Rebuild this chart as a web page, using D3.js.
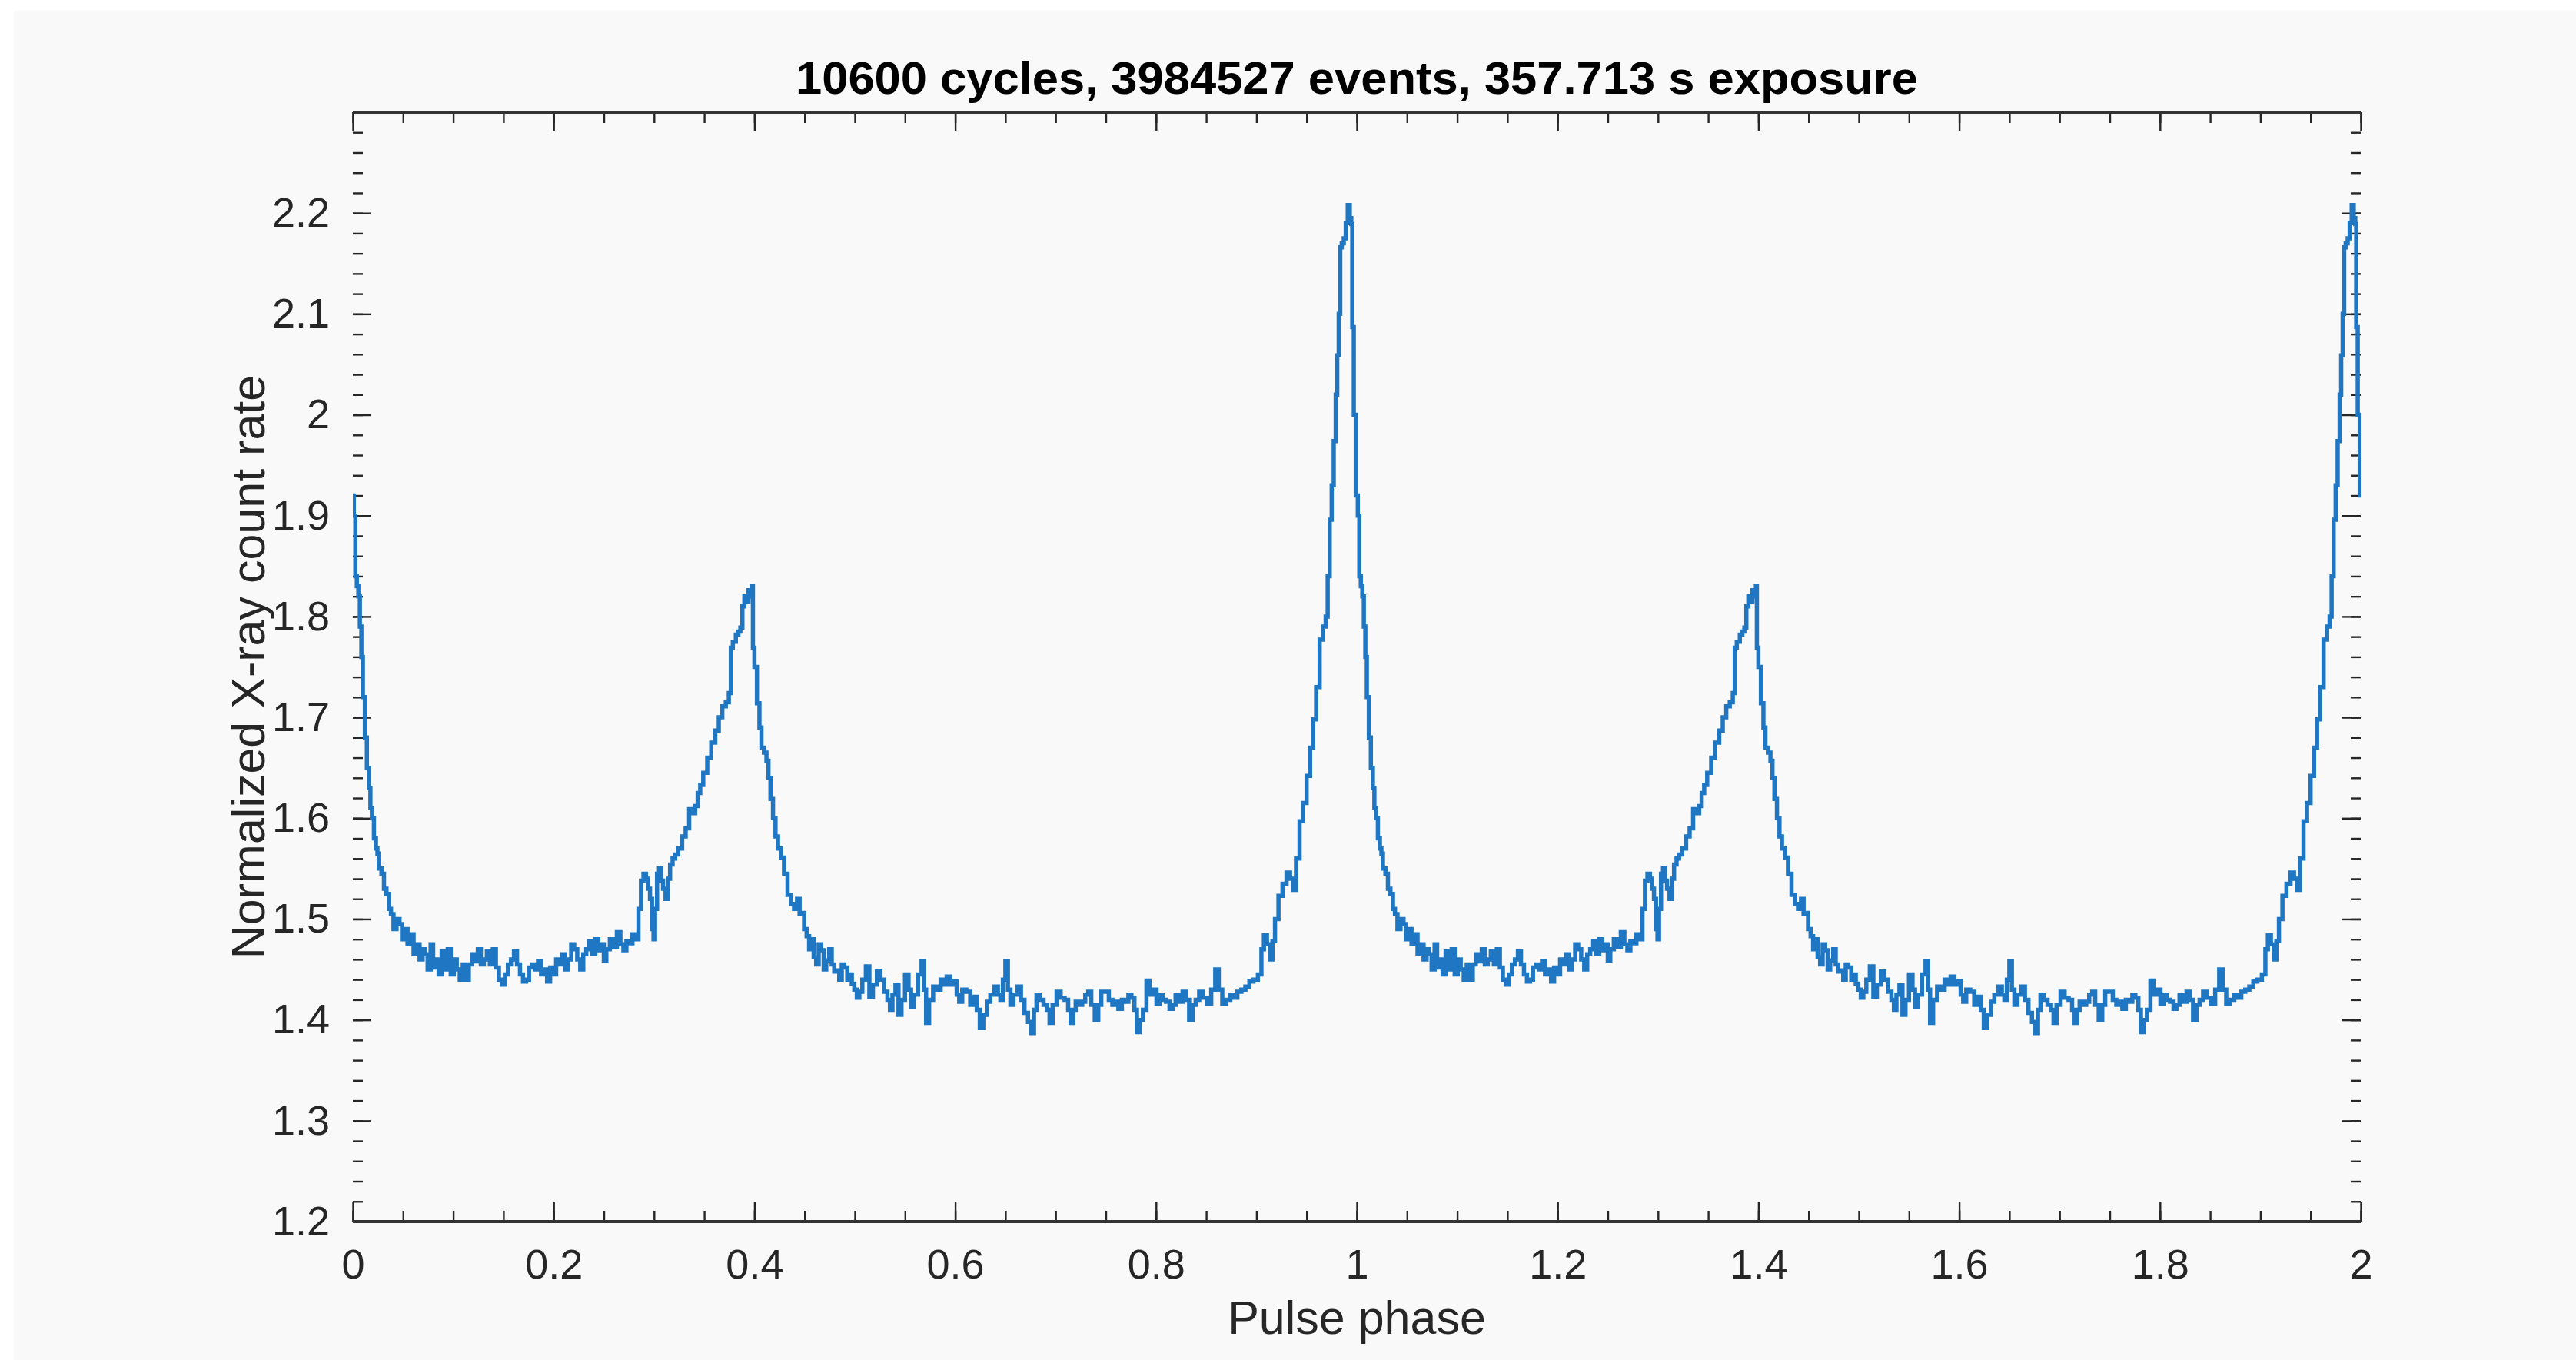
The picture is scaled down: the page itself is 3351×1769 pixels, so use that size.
<!DOCTYPE html>
<meta charset="utf-8">

<!-- Load d3.js -->
<script src="https://d3js.org/d3.v7.min.js"></script>

<style>
  body { margin: 0; background: #ffffff; }
  text { font-family: 'Liberation Sans', Arial, Helvetica, sans-serif; fill: #262626; }
</style>

<div id="my_dataviz"></div>

<script>

// one folded pulse cycle (phase, normalized rate)
var cyclePhase = [
  0.000, 0.002, 0.003, 0.005, 0.006, 0.008, 0.009, 0.011, 0.013, 0.015,
  0.017, 0.018, 0.020, 0.022, 0.024, 0.025, 0.027, 0.030, 0.032, 0.035,
  0.037, 0.039, 0.042, 0.045, 0.048, 0.050, 0.053, 0.056, 0.059, 0.062,
  0.065, 0.068, 0.071, 0.073, 0.076, 0.079, 0.081, 0.084, 0.087, 0.090,
  0.093, 0.096, 0.099, 0.102, 0.105, 0.108, 0.111, 0.114, 0.117, 0.120,
  0.123, 0.126, 0.129, 0.132, 0.135, 0.138, 0.141, 0.144, 0.147, 0.150,
  0.153, 0.156, 0.159, 0.162, 0.165, 0.168, 0.171, 0.174, 0.177, 0.180,
  0.183, 0.186, 0.189, 0.192, 0.195, 0.198, 0.201, 0.204, 0.207, 0.210,
  0.213, 0.216, 0.219, 0.222, 0.225, 0.228, 0.231, 0.234, 0.237, 0.240,
  0.243, 0.246, 0.249, 0.251, 0.254, 0.258, 0.261, 0.265, 0.268, 0.271,
  0.274, 0.277, 0.280, 0.283, 0.286, 0.288, 0.291, 0.293, 0.295, 0.297,
  0.299, 0.300, 0.302, 0.304, 0.306, 0.308, 0.310, 0.313, 0.315, 0.317,
  0.320, 0.322, 0.326, 0.330, 0.333, 0.337, 0.340, 0.342, 0.345, 0.347,
  0.351, 0.355, 0.359, 0.363, 0.366, 0.370, 0.373, 0.376, 0.377, 0.380,
  0.383, 0.385, 0.387, 0.389, 0.391, 0.393, 0.395, 0.397, 0.398, 0.399,
  0.401, 0.404, 0.406, 0.408, 0.411, 0.413, 0.415, 0.417, 0.420, 0.422,
  0.425, 0.428, 0.431, 0.435, 0.438, 0.441, 0.444, 0.446, 0.448, 0.451,
  0.453, 0.456, 0.458, 0.460, 0.463, 0.465, 0.468, 0.470, 0.473, 0.476,
  0.478, 0.481, 0.483, 0.486, 0.488, 0.491, 0.494, 0.496, 0.498, 0.501,
  0.503, 0.506, 0.509, 0.513, 0.516, 0.520, 0.524, 0.527, 0.531, 0.534,
  0.536, 0.539, 0.542, 0.545, 0.548, 0.552, 0.555, 0.557, 0.561, 0.565,
  0.568, 0.570, 0.572, 0.576, 0.580, 0.584, 0.587, 0.590, 0.593, 0.597,
  0.600, 0.603, 0.605, 0.609, 0.613, 0.617, 0.620, 0.623, 0.626, 0.630,
  0.633, 0.637, 0.641, 0.644, 0.646, 0.649, 0.651, 0.654, 0.656, 0.660,
  0.664, 0.667, 0.671, 0.674, 0.677, 0.680, 0.682, 0.686, 0.690, 0.693,
  0.695, 0.699, 0.703, 0.707, 0.711, 0.714, 0.716, 0.719, 0.721, 0.725,
  0.728, 0.731, 0.734, 0.737, 0.741, 0.744, 0.747, 0.751, 0.755, 0.758,
  0.761, 0.764, 0.768, 0.771, 0.774, 0.777, 0.780, 0.782, 0.785, 0.789,
  0.792, 0.795, 0.799, 0.802, 0.805, 0.808, 0.812, 0.815, 0.818, 0.821,
  0.825, 0.828, 0.831, 0.835, 0.838, 0.841, 0.845, 0.849, 0.853, 0.857,
  0.861, 0.864, 0.868, 0.872, 0.876, 0.879, 0.883, 0.887, 0.891, 0.895,
  0.899, 0.904, 0.906, 0.909, 0.912, 0.915, 0.917, 0.920, 0.924, 0.928,
  0.932, 0.935, 0.938, 0.941, 0.945, 0.948, 0.952, 0.955, 0.958, 0.961,
  0.965, 0.968, 0.970, 0.972, 0.974, 0.976, 0.978, 0.980, 0.981, 0.983,
  0.984, 0.986, 0.988, 0.990, 0.992, 0.994, 0.995, 0.996, 0.998, 1.000
];
var cycleRate = [
  1.920, 1.900, 1.840, 1.830, 1.820, 1.790, 1.760, 1.720, 1.680, 1.650,
  1.630, 1.610, 1.600, 1.580, 1.570, 1.565, 1.550, 1.545, 1.530, 1.525,
  1.510, 1.505, 1.490, 1.500, 1.495, 1.480, 1.490, 1.475, 1.485, 1.465,
  1.475, 1.460, 1.470, 1.465, 1.450, 1.475, 1.452, 1.460, 1.445, 1.468,
  1.450, 1.470, 1.445, 1.460, 1.450, 1.440, 1.455, 1.440, 1.455, 1.465,
  1.458, 1.470, 1.455, 1.460, 1.468, 1.455, 1.470, 1.452, 1.440, 1.435,
  1.445, 1.455, 1.460, 1.468, 1.455, 1.445, 1.438, 1.440, 1.452, 1.455,
  1.450, 1.458, 1.445, 1.450, 1.438, 1.452, 1.445, 1.460, 1.455, 1.465,
  1.450, 1.460, 1.475, 1.470, 1.460, 1.450, 1.465, 1.470, 1.478, 1.465,
  1.480, 1.469, 1.475, 1.459, 1.470, 1.480, 1.472, 1.487, 1.475, 1.469,
  1.478, 1.476, 1.485, 1.480, 1.510, 1.538, 1.545, 1.540, 1.530, 1.520,
  1.490, 1.480, 1.510, 1.545, 1.550, 1.538, 1.530, 1.520, 1.540, 1.554,
  1.560, 1.564, 1.570, 1.582, 1.590, 1.609, 1.605, 1.612, 1.625, 1.633,
  1.645, 1.660, 1.675, 1.687, 1.700, 1.711, 1.715, 1.724, 1.769, 1.775,
  1.782, 1.785, 1.789, 1.810, 1.820, 1.815, 1.826, 1.820, 1.830, 1.769,
  1.750, 1.714, 1.690, 1.670, 1.665, 1.657, 1.640, 1.619, 1.600, 1.582,
  1.570, 1.561, 1.545, 1.524, 1.515, 1.510, 1.520, 1.505, 1.506, 1.490,
  1.483, 1.470, 1.480, 1.462, 1.455, 1.475, 1.469, 1.450, 1.459, 1.470,
  1.455, 1.448, 1.449, 1.440, 1.455, 1.452, 1.440, 1.445, 1.436, 1.430,
  1.422, 1.428, 1.440, 1.453, 1.423, 1.435, 1.448, 1.440, 1.428, 1.420,
  1.410, 1.425, 1.435, 1.405, 1.420, 1.445, 1.430, 1.413, 1.425, 1.445,
  1.458, 1.430, 1.397, 1.420, 1.433, 1.430, 1.440, 1.435, 1.443, 1.435,
  1.438, 1.425, 1.418, 1.430, 1.428, 1.415, 1.423, 1.410, 1.392, 1.405,
  1.418, 1.425, 1.433, 1.425, 1.420, 1.440, 1.458, 1.430, 1.415, 1.425,
  1.433, 1.420, 1.407, 1.398, 1.387, 1.410, 1.425, 1.420, 1.415, 1.410,
  1.397, 1.415, 1.428, 1.422, 1.420, 1.410, 1.397, 1.410, 1.418, 1.415,
  1.418, 1.425, 1.428, 1.415, 1.400, 1.415, 1.428, 1.428, 1.420, 1.415,
  1.418, 1.411, 1.420, 1.418, 1.425, 1.422, 1.410, 1.388, 1.400, 1.410,
  1.439, 1.425, 1.430, 1.416, 1.425, 1.420, 1.418, 1.411, 1.415, 1.425,
  1.418, 1.428, 1.420, 1.400, 1.415, 1.420, 1.428, 1.422, 1.416, 1.430,
  1.450, 1.430, 1.416, 1.420, 1.425, 1.422, 1.428, 1.430, 1.433, 1.438,
  1.440, 1.445, 1.470, 1.484, 1.475, 1.460, 1.478, 1.500, 1.523, 1.535,
  1.546, 1.540, 1.529, 1.560, 1.597, 1.615, 1.642, 1.670, 1.698, 1.730,
  1.777, 1.790, 1.800, 1.840, 1.896, 1.930, 1.974, 2.020, 2.059, 2.100,
  2.166, 2.170, 2.175, 2.190, 2.208, 2.195, 2.189, 2.087, 2.000, 1.920
];

// the profile is plotted over two cycles
var cycles = [0, 1];

// axis ticks and labels
var xMajorTicks = [0, 0.2, 0.4, 0.6, 0.8, 1, 1.2, 1.4, 1.6, 1.8, 2];
var xMinorTicks = d3.range(0, 2.0001, 0.05);
var yMajorTicks = [1.2, 1.3, 1.4, 1.5, 1.6, 1.7, 1.8, 1.9, 2, 2.1, 2.2];
var yMinorTicks = d3.range(1.2, 2.3001, 0.02);

var titleText = "10600 cycles, 3984527 events, 357.713 s exposure";
var xLabelText = "Pulse phase";
var yLabelText = "Normalized X-ray count rate";

// ---------------------------//
//       SVG  AND SCALES      //
// ---------------------------//

var W = 3351, H = 1769;
var plot = {left: 459, right: 3071, top: 146, bottom: 1589};

var svg = d3.select("#my_dataviz")
  .append("svg")
    .attr("width", W)
    .attr("height", H);

// light grey figure background
svg.append("rect")
  .attr("x", 18)
  .attr("y", 14)
  .attr("width", W - 18)
  .attr("height", H - 14)
  .style("fill", "#f9f9f9");

var x = d3.scaleLinear()
  .domain([0, 2])
  .range([plot.left, plot.right]);

var y = d3.scaleLinear()
  .domain([1.2, 2.3])
  .range([plot.bottom, plot.top]);

var fmt = d3.format("~g");
var tickColor = "#262626";

// ---------------------------//
//       AXES                 //
// ---------------------------//

// bottom and top x axes (ticks inward, only bottom one labelled)
svg.append("g")
  .attr("transform", "translate(0," + plot.bottom + ")")
  .call(d3.axisBottom(x).tickValues(xMajorTicks).tickSizeInner(-25).tickSizeOuter(0).tickPadding(36).tickFormat(fmt));
svg.append("g")
  .attr("transform", "translate(0," + plot.top + ")")
  .call(d3.axisTop(x).tickValues(xMajorTicks).tickSizeInner(-25).tickSizeOuter(0).tickFormat(""));

// left and right y axes
svg.append("g")
  .attr("transform", "translate(" + plot.left + ",0)")
  .call(d3.axisLeft(y).tickValues(yMajorTicks).tickSizeInner(-24).tickSizeOuter(0).tickPadding(30).tickFormat(fmt));
svg.append("g")
  .attr("transform", "translate(" + plot.right + ",0)")
  .call(d3.axisRight(y).tickValues(yMajorTicks).tickSizeInner(-24).tickSizeOuter(0).tickFormat(""));

// minor ticks
svg.append("g")
  .attr("transform", "translate(0," + plot.bottom + ")")
  .call(d3.axisBottom(x).tickValues(xMinorTicks).tickSizeInner(-14).tickSizeOuter(0).tickFormat(""));
svg.append("g")
  .attr("transform", "translate(0," + plot.top + ")")
  .call(d3.axisTop(x).tickValues(xMinorTicks).tickSizeInner(-14).tickSizeOuter(0).tickFormat(""));
svg.append("g")
  .attr("transform", "translate(" + plot.left + ",0)")
  .call(d3.axisLeft(y).tickValues(yMinorTicks).tickSizeInner(-13).tickSizeOuter(0).tickFormat(""));
svg.append("g")
  .attr("transform", "translate(" + plot.right + ",0)")
  .call(d3.axisRight(y).tickValues(yMinorTicks).tickSizeInner(-13).tickSizeOuter(0).tickFormat(""));

// style: horizontal spines visible, vertical spines hidden
svg.selectAll(".domain").style("stroke", "none");
svg.selectAll(".tick line").style("stroke", tickColor).style("stroke-width", 2.4);
svg.selectAll(".tick text")
  .style("font-size", "54px")
  .style("fill", tickColor);

[plot.top, plot.bottom].forEach(function(yy) {
  svg.append("line")
    .attr("x1", plot.left).attr("x2", plot.right)
    .attr("y1", yy).attr("y2", yy)
    .style("stroke", "#333333")
    .style("stroke-width", 4);
});

// ---------------------------//
//       CURVE                //
// ---------------------------//

svg.append("clipPath")
  .attr("id", "plotclip")
  .append("rect")
    .attr("x", plot.left).attr("y", plot.top - 10)
    .attr("width", plot.right - plot.left)
    .attr("height", plot.bottom - plot.top + 10);

var line = d3.line()
  .curve(d3.curveStep)
  .x(function(d) { return x(d[0]); })
  .y(function(d) { return y(d[1]); });

var series = [];
cycles.forEach(function(c) {
  cyclePhase.forEach(function(p, i) { series.push([p + c, cycleRate[i]]); });
});

svg.append("path")
  .datum(series)
  .attr("clip-path", "url(#plotclip)")
  .attr("d", line)
  .style("fill", "none")
  .style("stroke", "#1f77c4")
  .style("stroke-width", 5.5)
  .style("stroke-linejoin", "miter");

// ---------------------------//
//       TITLES               //
// ---------------------------//

svg.append("text")
  .attr("x", (plot.left + plot.right) / 2)
  .attr("y", 122)
  .attr("text-anchor", "middle")
  .attr("textLength", 1460)
  .attr("lengthAdjust", "spacingAndGlyphs")
  .style("font-size", "60px")
  .style("font-weight", "bold")
  .style("fill", "#000000")
  .text(titleText);

svg.append("text")
  .attr("x", (plot.left + plot.right) / 2)
  .attr("y", 1735)
  .attr("text-anchor", "middle")
  .style("font-size", "61px")
  .text(xLabelText);

svg.append("text")
  .attr("transform", "translate(344," + (plot.top + plot.bottom) / 2 + ") rotate(-90)")
  .attr("text-anchor", "middle")
  .style("font-size", "61px")
  .text(yLabelText);

</script>
